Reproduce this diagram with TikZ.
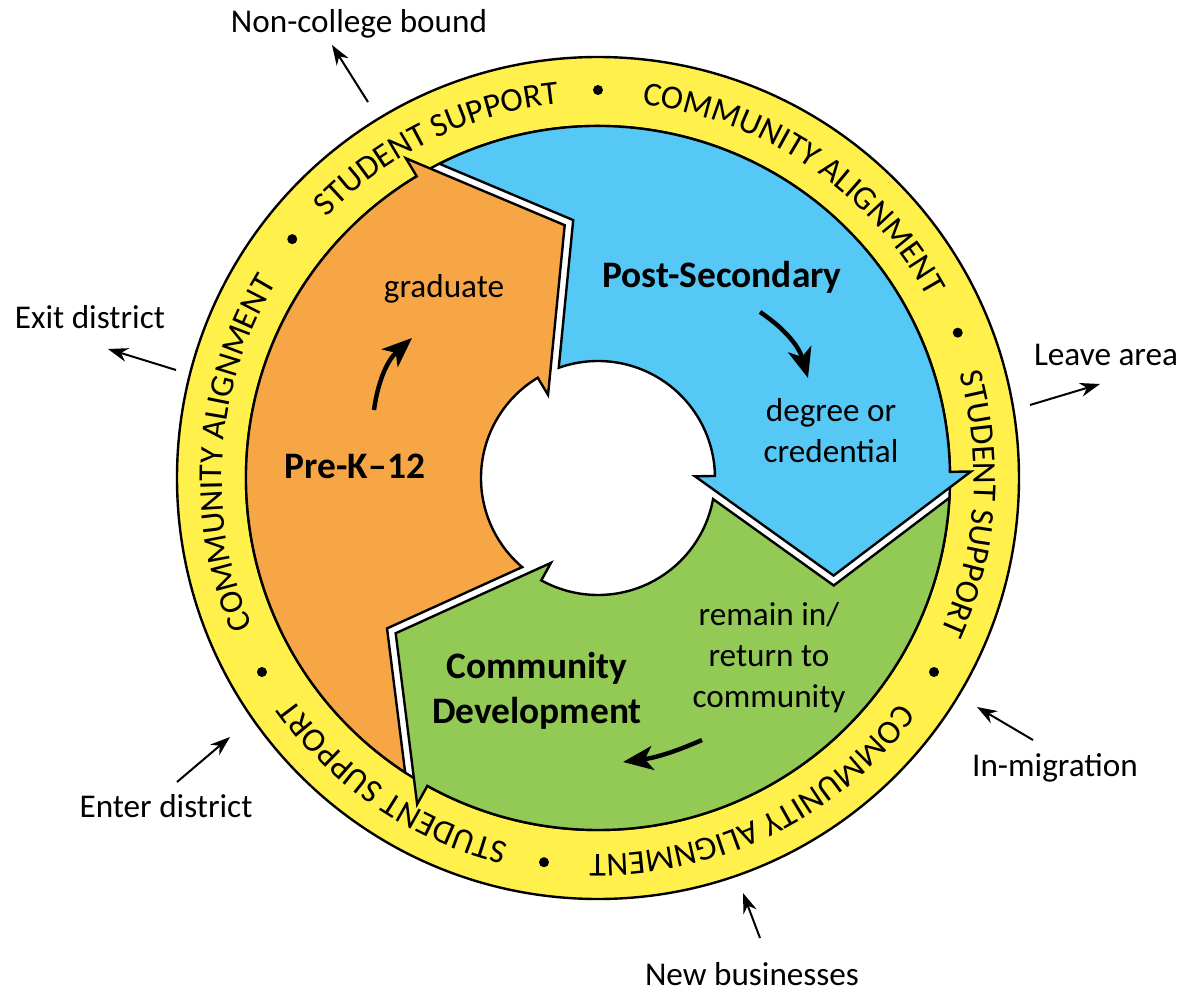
\documentclass[tikz,border=0pt]{standalone}
\usepackage{fontspec}
\setmainfont{Carlito}
\usetikzlibrary{arrows.meta,decorations.text}

\definecolor{ringyellow}{RGB}{255,240,75}
\definecolor{prekorange}{RGB}{247,166,70}
\definecolor{postblue}{RGB}{86,200,245}
\definecolor{devgreen}{RGB}{147,201,85}
\newcommand\ringfont{\fontsize{16.8}{20}\selectfont}

\begin{document}
\begin{tikzpicture}[x=0.5pt,y=0.5pt,
	segment/.style={draw=black,line width=1.2pt,line join=miter},
	ringtext/.style={decorate,decoration={text along path,text align=center,text={|\ringfont|#1}}},
	plaintext/.style={font=\fontsize{16.6}{20.5}\selectfont,align=center,anchor=base},
	boldtext/.style={font=\fontsize{18.7}{22.5}\selectfont\bfseries,align=center,anchor=base},
	flowarrow/.style={-{Stealth[length=10pt,width=7pt]},line width=1pt},
	cyclearrow/.style={-{Stealth[length=15pt,width=12pt,inset=4pt]},line width=2.2pt}]
	\useasboundingbox (-598,-519) rectangle (586,478);

	\draw[fill=ringyellow,even odd rule,line width=1.2pt] (0,0) circle[radius=421] circle[radius=352];
	\foreach \a in {0,120,240} {
		\path[ringtext={STUDENT SUPPORT}] ({141-\a}:376) arc[start angle={141-\a},end angle={91-\a},radius=376];
		\path[ringtext={COMMUNITY ALIGNMENT}] ({88-\a}:376) arc[start angle={88-\a},end angle={24-\a},radius=376];
		\fill ({90-\a}:388) circle[radius=5];
		\fill ({142-\a}:388) circle[radius=5];
	}

	\foreach \rot/\col in {1/postblue,121/prekorange,241/devgreen} {
		\begin{scope}[rotate=\rot]
			\path[segment,fill=\col] (115.78:352) arc[start angle=115.78,end angle=0,radius=352]
				-- (0:373) -- (-23.5:255) -- (0:97) -- (0:117)
				arc[start angle=0,end angle=108.61,radius=117] -- (94.49:259.1) -- cycle;
		\end{scope}
	}

	\node[plaintext] (grad) at (-154,181) {graduate};
	\node[boldtext] (prek) at (-243,0) {Pre-K–12};
	\node[boldtext] (postsec) at (124,191) {Post-Secondary};
	\node[plaintext] (degree) at (233,16) {degree or\\credential};
	\node[plaintext] (remain) at (171,-229) {remain in/\\return to\\community};
	\node[boldtext] (commdev) at (-61,-245) {Community\\Development};

	\coordinate (grad-from) at (-224,68);
	\coordinate (grad-to) at (-186,140);
	\coordinate (degree-from) at (162,166);
	\coordinate (degree-to) at (210,100);
	\coordinate (remain-from) at (104,-262);
	\coordinate (remain-to) at (25,-284);
	\draw[cyclearrow] (grad-from) to[bend left=20] (grad-to);
	\draw[cyclearrow] (degree-from) to[bend left=20] (degree-to);
	\draw[cyclearrow] (remain-from) to[bend left=8] (remain-to);

	\node[plaintext] (noncollege) at (-239,445) {Non-college bound};
	\node[plaintext] (exitdist) at (-508,150) {Exit district};
	\node[plaintext] (leavearea) at (508,113) {Leave area};
	\node[plaintext] (inmig) at (457,-298) {In-migration};
	\node[plaintext] (enterdist) at (-432,-339) {Enter district};
	\node[plaintext] (newbiz) at (154,-507) {New businesses};

	\coordinate (noncollege-ring) at (-230,376);
	\coordinate (noncollege-tip) at (-266,433);
	\coordinate (exitdist-ring) at (-422,108);
	\coordinate (exitdist-tip) at (-490,129);
	\coordinate (leavearea-ring) at (432,73);
	\coordinate (leavearea-tip) at (502,94);
	\coordinate (inmig-tail) at (435,-262);
	\coordinate (inmig-ring) at (379,-229);
	\coordinate (newbiz-tail) at (162,-460);
	\coordinate (newbiz-ring) at (145,-415);
	\coordinate (enterdist-tail) at (-421,-304);
	\coordinate (enterdist-ring) at (-368,-259);
	\draw[flowarrow] (noncollege-ring) -- (noncollege-tip);
	\draw[flowarrow] (exitdist-ring) -- (exitdist-tip);
	\draw[flowarrow] (leavearea-ring) -- (leavearea-tip);
	\draw[flowarrow] (inmig-tail) -- (inmig-ring);
	\draw[flowarrow] (newbiz-tail) -- (newbiz-ring);
	\draw[flowarrow] (enterdist-tail) -- (enterdist-ring);
\end{tikzpicture}
\end{document}
